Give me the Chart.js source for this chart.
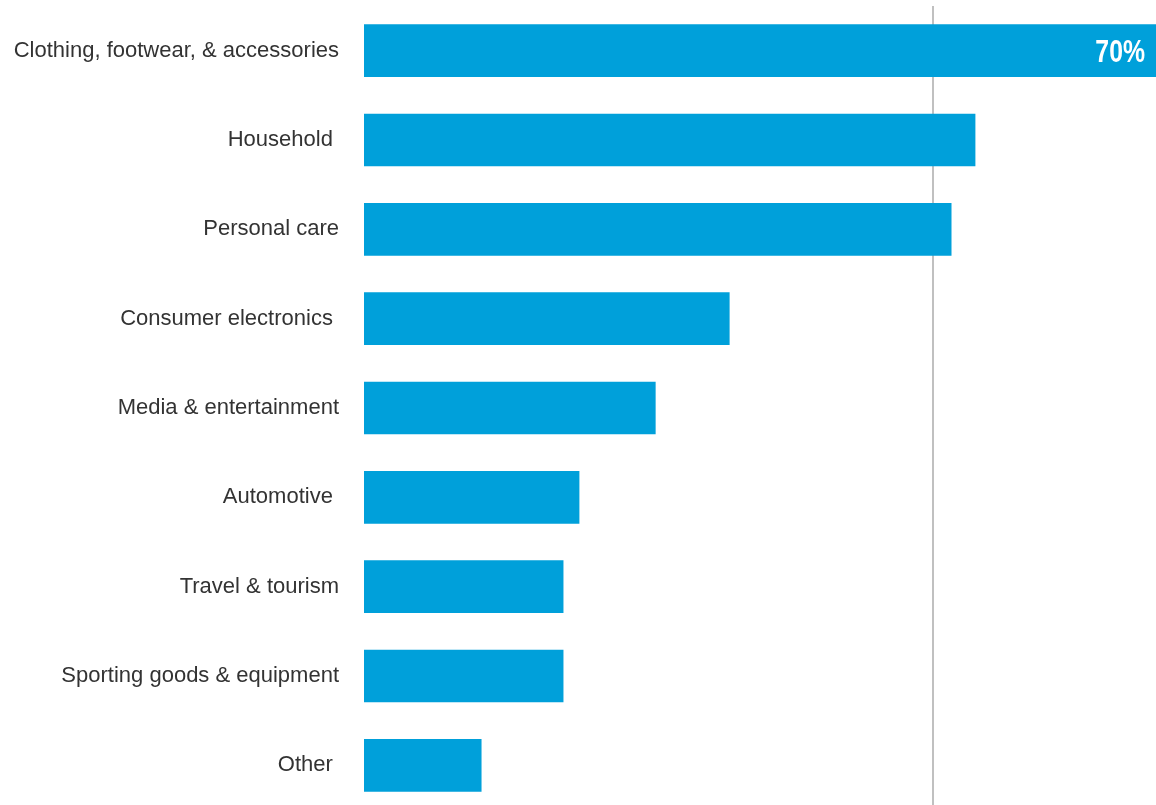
<!DOCTYPE html>
<html>
<head>
<meta charset="utf-8">
<script src="https://cdn.jsdelivr.net/npm/chart.js@4.4.1/dist/chart.umd.min.js"></script>
<style>
  html, body { margin: 0; padding: 0; background: #ffffff; overflow: hidden; }
  #wrap { width: 1156px; height: 805px; overflow: hidden; position: relative; }
  #box { width: 1156px; height: 810px; position: absolute; left: 0; top: 0; }
</style>
</head>
<body>
<div id="wrap"><div id="box"><canvas id="c"></canvas></div></div>
<script>
const categories = [
  "Clothing, footwear, & accessories",
  "Household ",
  "Personal care",
  "Consumer electronics ",
  "Media & entertainment",
  "Automotive ",
  "Travel & tourism",
  "Sporting goods & equipment",
  "Other "
];
const shares = [70, 53.7, 51.6, 32.1, 25.6, 18.9, 17.5, 17.5, 10.3];
const labelledIndex = [0];
const valueLabels = ["70%"];
const referenceTicks = [50];

const valueLabelPlugin = {
  id: 'valueLabel',
  afterDatasetsDraw(chart) {
    const ctx = chart.ctx;
    const meta = chart.getDatasetMeta(0);
    labelledIndex.forEach((idx, k) => {
      const bar = meta.data[idx];
      const x = Math.min(bar.x, chart.width) - 11;
      ctx.save();
      ctx.translate(x, bar.y + 2.5);
      ctx.scale(0.8, 1);
      ctx.fillStyle = '#ffffff';
      ctx.font = 'bold 31px "Liberation Sans", Arial, sans-serif';
      ctx.textAlign = 'right';
      ctx.textBaseline = 'middle';
      ctx.fillText(valueLabels[k], 0, 0);
      ctx.restore();
    });
  }
};

new Chart(document.getElementById('c'), {
  type: 'bar',
  data: {
    labels: categories,
    datasets: [{
      data: shares,
      backgroundColor: '#00A0DA',
      borderWidth: 0,
      barThickness: 52
    }]
  },
  options: {
    indexAxis: 'y',
    responsive: true,
    maintainAspectRatio: false,
    animation: false,
    layout: { padding: { top: 6, right: 0, bottom: 0, left: 0 } },
    plugins: { legend: { display: false }, tooltip: { enabled: false } },
    scales: {
      x: {
        min: 0,
        max: 69.6,
        border: { display: false },
        grid: { color: '#c0c0c0', lineWidth: 2, drawTicks: false },
        ticks: { display: false },
        afterBuildTicks(scale) { scale.ticks = referenceTicks.map(v => ({ value: v })); },
        afterFit(scale) { scale.height = 0; scale.paddingLeft = 0; scale.paddingRight = 0; }
      },
      y: {
        border: { display: false },
        grid: { display: false, drawTicks: false },
        ticks: {
          color: '#333333',
          padding: 25,
          font: { family: '"Liberation Sans", Arial, sans-serif', size: 22 }
        },
        afterFit(scale) {
          scale.width = 364;
          scale.paddingTop = 0;
          scale.paddingBottom = 0;
        }
      }
    }
  },
  plugins: [valueLabelPlugin]
});
</script>
</body>
</html>
